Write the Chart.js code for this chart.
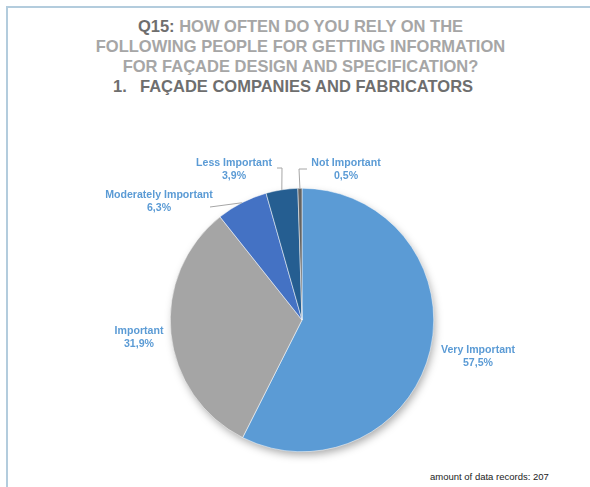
<!DOCTYPE html>
<html>
<head>
<meta charset="utf-8">
<script src="https://cdn.jsdelivr.net/npm/chart.js@4"></script>
<style>
  html, body { margin: 0; padding: 0; background: #fff; }
  #wrap { position: relative; width: 590px; height: 487px; overflow: hidden; font-family: 'Liberation Sans', Arial, sans-serif; }
  #frameTop { position: absolute; left: 6px; top: 6px; width: 584px; height: 1.5px; background: #b3ccdd; }
  #frameLeft { position: absolute; left: 6px; top: 6px; width: 1.5px; height: 481px; background: #b3ccdd; }
  #title { position: absolute; left: 0; top: 16px; width: 601px; text-align: center; font-weight: bold; font-size: 16.5px; line-height: 20px; color: #a6a6a6; }
  #title .dark { color: #6e6e6e; }
  #sub { position: absolute; left: 113px; top: 76px; font-weight: bold; font-size: 16.5px; line-height: 20px; color: #6e6e6e; white-space: nowrap; }
  #sub span { display: inline-block; width: 27px; }
  #foot { position: absolute; left: 430px; top: 471px; font-size: 9.5px; color: #222; white-space: nowrap; }
  canvas { position: absolute; left: 0; top: 0; }
</style>
</head>
<body>
<div id="wrap">
  <div id="frameTop"></div>
  <div id="frameLeft"></div>
  <div id="title"><span class="dark">Q15:</span> HOW OFTEN DO YOU RELY ON THE<br>FOLLOWING PEOPLE FOR GETTING INFORMATION<br>FOR FAÇADE DESIGN AND SPECIFICATION?</div>
  <div id="sub"><span>1.</span>FAÇADE COMPANIES AND FABRICATORS</div>
  <div id="foot">amount of data records: 207</div>
  <canvas id="pieChart" width="590" height="487"></canvas>
</div>
<script>
// Данные
const categories = ['Very Important', 'Important', 'Moderately Important', 'Less Important', 'Not Important'];
const percentages = [57.5, 31.9, 6.3, 3.9, 0.5];
const sliceColors = ['#5b9bd5', '#a5a5a5', '#4472c4', '#255e91', '#636363'];

// Положение подписей относительно центра круга
const labelCenters = [[176, 37], [-163, 18], [-143, -118], [-68, -150], [44, -150]];
const leaderLines = [null, null, [[-92, -113]], [[-20, -152], [-25, -152]], [[-3, -151], [5, -151]]];

const fmt = v => v.toFixed(1).replace('.', ',') + '%';

// Тень под кругом
const shadowPlugin = {
    id: 'pieShadow',
    beforeDatasetsDraw(chart) {
        const arc = chart.getDatasetMeta(0).data[0];
        const ctx = chart.ctx;
        ctx.save();
        ctx.shadowColor = 'rgba(0,0,0,0.35)';
        ctx.shadowBlur = 9;
        ctx.shadowOffsetX = 2;
        ctx.shadowOffsetY = 4;
        ctx.fillStyle = '#fff';
        ctx.beginPath();
        ctx.arc(arc.x, arc.y, arc.outerRadius - 1, 0, Math.PI * 2);
        ctx.fill();
        ctx.restore();
    }
};

// Подписи и линии-выноски
const labelPlugin = {
    id: 'sliceLabels',
    afterDatasetsDraw(chart) {
        const ctx = chart.ctx;
        const arcs = chart.getDatasetMeta(0).data;
        ctx.save();
        arcs.forEach((arc, i) => {
            const cx = arc.x, cy = arc.y;
            const mid = (arc.startAngle + arc.endAngle) / 2;
            if (leaderLines[i]) {
                ctx.strokeStyle = '#a6a6a6';
                ctx.lineWidth = 1;
                ctx.beginPath();
                ctx.moveTo(cx + Math.cos(mid) * arc.outerRadius, cy + Math.sin(mid) * arc.outerRadius);
                leaderLines[i].forEach(p => ctx.lineTo(cx + p[0], cy + p[1]));
                ctx.stroke();
            }
            const lx = cx + labelCenters[i][0];
            const ly = cy + labelCenters[i][1];
            ctx.fillStyle = '#5b9bd5';
            ctx.font = 'bold 10.6px "Liberation Sans", Arial, sans-serif';
            ctx.textAlign = 'center';
            ctx.textBaseline = 'middle';
            ctx.fillText(categories[i], lx, ly - 6.5);
            ctx.fillText(fmt(percentages[i]), lx, ly + 6.5);
        });
        ctx.restore();
    }
};

const ctx = document.getElementById('pieChart').getContext('2d');
const pieChart = new Chart(ctx, {
    type: 'pie',
    data: {
        labels: categories,
        datasets: [{
            data: percentages,
            backgroundColor: sliceColors,
            borderColor: '#ffffff',
            borderWidth: 0.5
        }]
    },
    options: {
        responsive: false,
        animation: false,
        layout: { padding: { top: 188, bottom: 35, left: 170, right: 156 } },
        plugins: {
            legend: { display: false },
            tooltip: { enabled: false }
        }
    },
    plugins: [shadowPlugin, labelPlugin]
});
</script>
</body>
</html>
